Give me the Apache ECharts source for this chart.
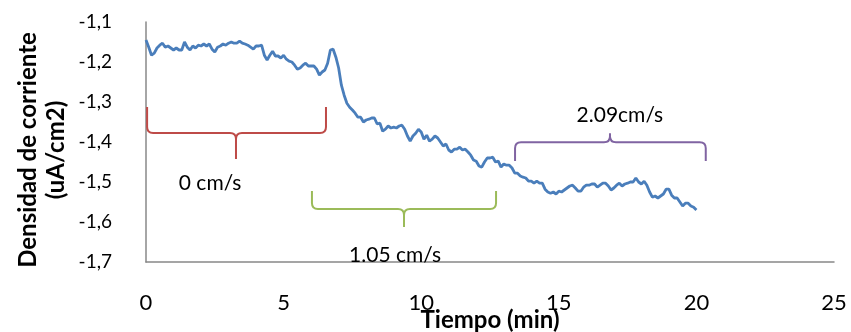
<!DOCTYPE html>
<html>
<head>
<meta charset="utf-8">
<script src="https://cdn.jsdelivr.net/npm/echarts@6/dist/echarts.min.js"></script>
<style>
  html, body { margin: 0; padding: 0; background: #fff; }
  #chart { width: 851px; height: 332px; }
</style>
</head>
<body>
<div id="chart"></div>
<script>
// ---- Data ----
const startTime = 0;      // min
const sampleStep = 0.1;   // min between samples
const currentDensity = [
  -1.145,-1.163,-1.183,-1.178,-1.165,-1.158,-1.153,-1.163,-1.160,-1.165,
  -1.170,-1.165,-1.170,-1.170,-1.150,-1.163,-1.170,-1.160,-1.165,-1.158,
  -1.160,-1.155,-1.160,-1.155,-1.168,-1.175,-1.163,-1.160,-1.155,-1.158,
  -1.153,-1.150,-1.153,-1.153,-1.148,-1.153,-1.155,-1.158,-1.163,-1.168,
  -1.160,-1.160,-1.158,-1.183,-1.195,-1.183,-1.173,-1.185,-1.185,-1.190,
  -1.183,-1.193,-1.198,-1.200,-1.208,-1.218,-1.215,-1.208,-1.203,-1.210,
  -1.210,-1.210,-1.218,-1.233,-1.225,-1.220,-1.203,-1.170,-1.168,-1.188,
  -1.215,-1.258,-1.283,-1.303,-1.313,-1.320,-1.328,-1.338,-1.338,-1.350,
  -1.345,-1.343,-1.340,-1.340,-1.355,-1.353,-1.373,-1.368,-1.360,-1.365,
  -1.363,-1.365,-1.360,-1.358,-1.368,-1.385,-1.398,-1.385,-1.378,-1.368,
  -1.375,-1.393,-1.383,-1.398,-1.393,-1.385,-1.390,-1.400,-1.410,-1.405,
  -1.420,-1.425,-1.418,-1.418,-1.413,-1.420,-1.418,-1.425,-1.433,-1.445,
  -1.448,-1.460,-1.463,-1.450,-1.440,-1.440,-1.438,-1.450,-1.448,-1.463,
  -1.455,-1.458,-1.458,-1.465,-1.478,-1.478,-1.485,-1.488,-1.490,-1.498,
  -1.498,-1.503,-1.498,-1.503,-1.503,-1.518,-1.525,-1.528,-1.525,-1.530,
  -1.523,-1.525,-1.520,-1.515,-1.510,-1.508,-1.515,-1.523,-1.523,-1.513,
  -1.508,-1.508,-1.505,-1.505,-1.513,-1.508,-1.503,-1.503,-1.510,-1.520,
  -1.515,-1.508,-1.503,-1.510,-1.505,-1.503,-1.500,-1.500,-1.490,-1.500,
  -1.505,-1.498,-1.508,-1.525,-1.538,-1.535,-1.540,-1.535,-1.530,-1.518,
  -1.518,-1.533,-1.540,-1.540,-1.550,-1.560,-1.553,-1.553,-1.560,-1.563,
  -1.570
];

// Velocity annotations (time ranges in min, levels in uA/cm2)
const braceLabels = ['0 cm/s', '1.05 cm/s', '2.09cm/s'];
const braceStart  = [0.04, 6.03, 13.41];
const braceEnd    = [6.54, 12.72, 20.34];
const braceTip    = [3.27, 9.375, 16.86];
const braceEndLvl = [-1.3125, -1.5225, -1.4475];
const braceBarLvl = [-1.3775, -1.5675, -1.4008];
const braceTipLvl = [-1.4425, -1.6125, -1.378];
const labelX      = [2.33, 9.05, 17.22];
const labelY      = [-1.5025, -1.6825, -1.3325];

const xTicks = { min: 0, max: 25, interval: 5 };
const yTicks = { min: -1.7, max: -1.1, interval: 0.1 };

// ---- Styles ----
const braceColors = ['#be4b48', '#9bbb59', '#8064a2'];
const FONT = 'Lato, "Liberation Sans", sans-serif';

const lineData = currentDensity.map((v, i) => [startTime + i * sampleStep, v]);
const braceData = braceLabels.map((l, i) => [
  braceStart[i], braceEnd[i], braceTip[i], braceEndLvl[i], braceBarLvl[i], braceTipLvl[i], labelX[i], labelY[i], i
]);

function renderBrace(params, api) {
  const x1 = api.value(0), x2 = api.value(1), xt = api.value(2);
  const yE = api.value(3), yB = api.value(4), yT = api.value(5);
  const idx = api.value(8);
  const p1 = api.coord([x1, yE]);
  const p2 = api.coord([x2, yE]);
  const pb = api.coord([x1, yB]);
  const pt = api.coord([xt, yT]);
  const barY = pb[1];
  const s = Math.sign(barY - p1[1]) || 1;
  const r = 6;
  const L = p1[0], R = p2[0], T = pt[0];
  const d = [
    'M', L, p1[1],
    'L', L, barY - s * r,
    'Q', L, barY, L + r, barY,
    'L', T - r, barY,
    'Q', T, barY, T, barY + s * r,
    'L', T, pt[1],
    'M', T, barY + s * r,
    'Q', T, barY, T + r, barY,
    'L', R - r, barY,
    'Q', R, barY, R, barY - s * r,
    'L', R, p2[1]
  ].join(' ');
  const lp = api.coord([api.value(6), api.value(7)]);
  return {
    type: 'group',
    children: [
      {
        type: 'path',
        shape: { pathData: d },
        style: { stroke: braceColors[idx], fill: 'none', lineWidth: 2 }
      },
      {
        type: 'text',
        x: lp[0], y: lp[1],
        style: {
          text: braceLabels[idx],
          fill: '#000',
          fontSize: 21,
          fontFamily: FONT,
          align: 'center',
          verticalAlign: 'middle'
        }
      }
    ]
  };
}

const chart = echarts.init(document.getElementById('chart'), null, { renderer: 'canvas' });
chart.setOption({
  animation: false,
  backgroundColor: '#fff',
  grid: { left: 146, right: 17, top: 22, bottom: 70, containLabel: false, outerBoundsMode: 'none' },
  xAxis: {
    type: 'value',
    min: xTicks.min, max: xTicks.max, interval: xTicks.interval,
    name: 'Tiempo (min)',
    nameLocation: 'middle',
    nameGap: 46,
    nameMoveOverlap: false,
    nameTextStyle: { fontFamily: FONT, fontWeight: 'bold', fontSize: 24, color: '#000' },
    axisLine: { show: true, onZero: false, lineStyle: { color: '#888888', width: 1.5 } },
    axisTick: { show: false },
    splitLine: { show: false },
    axisLabel: { margin: 30, fontFamily: FONT, fontSize: 22, color: '#000' }
  },
  yAxis: {
    type: 'value',
    min: yTicks.min, max: yTicks.max, interval: yTicks.interval,
    name: 'Densidad de corriente\n(uA/cm2)',
    nameLocation: 'middle',
    nameRotate: 90,
    nameGap: 76,
    nameMoveOverlap: false,
    nameTextStyle: { fontFamily: FONT, fontWeight: 'bold', fontSize: 24, color: '#000', lineHeight: 28, padding: [0, 16, 0, 0] },
    axisLine: { show: true, lineStyle: { color: '#888888', width: 1.5 } },
    axisTick: { show: false },
    splitLine: { show: false },
    axisLabel: {
      margin: 34, fontFamily: FONT, fontSize: 19, color: '#000',
      formatter: v => v.toFixed(1).replace('.', ',')
    }
  },
  series: [
    {
      type: 'line',
      data: lineData,
      showSymbol: false,
      symbol: 'none',
      lineStyle: { color: '#4a7ebb', width: 2.8 },
      z: 3
    },
    {
      type: 'custom',
      renderItem: renderBrace,
      data: braceData,
      clip: false,
      z: 2
    }
  ]
});
</script>
</body>
</html>
